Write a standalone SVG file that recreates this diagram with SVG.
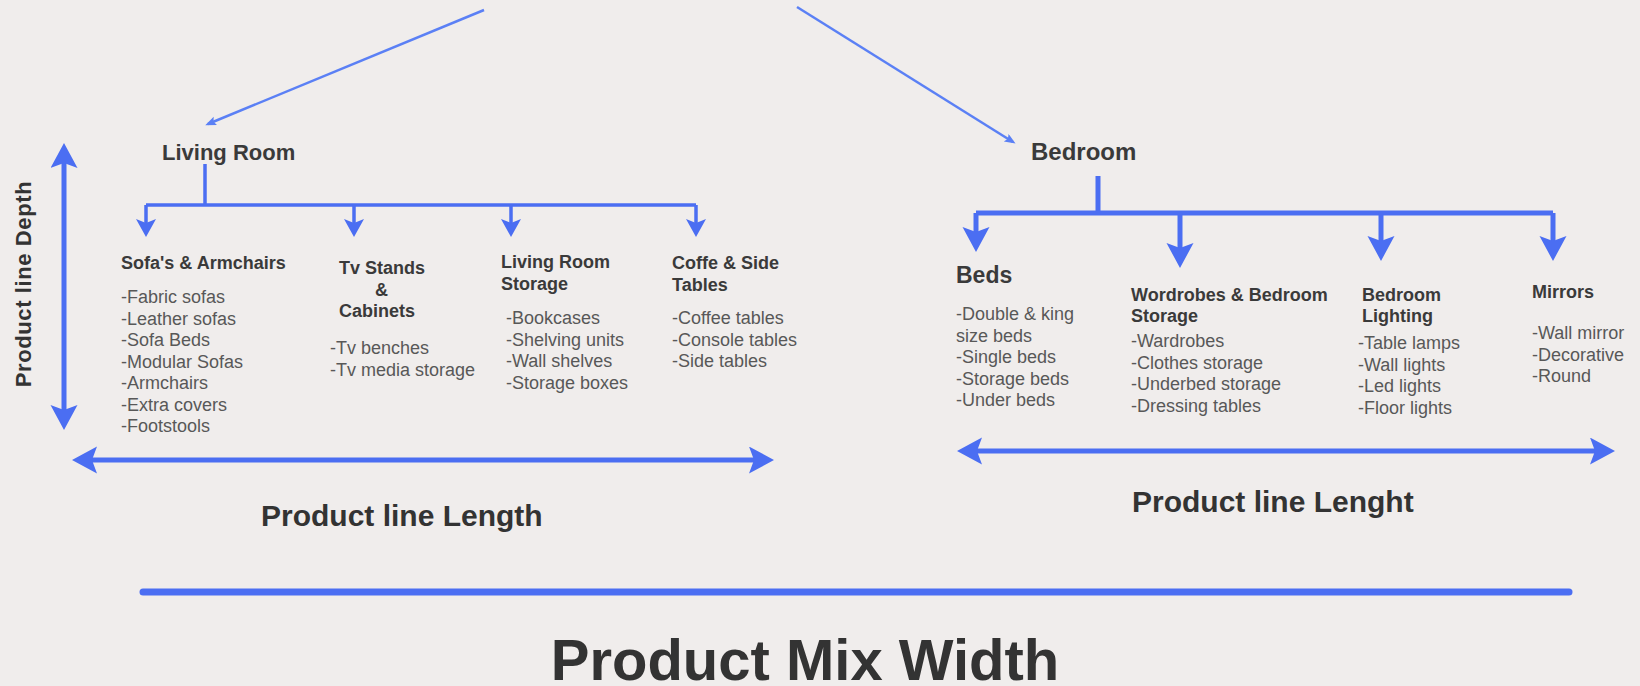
<svg xmlns="http://www.w3.org/2000/svg" width="1640" height="686" viewBox="0 0 1640 686">
  <defs>
    <style>
      .bg { fill: #f0edec; }
      .room { font-family: "Liberation Sans", Arial, sans-serif; font-weight: bold; fill: #3a3a3a; }
      .head { font-family: "Liberation Sans", Arial, sans-serif; font-weight: bold; font-size: 18px; fill: #3a3a3a; }
      .item { font-family: "Liberation Sans", Arial, sans-serif; font-size: 18px; fill: #585858; }
      .axis { font-family: "Liberation Sans", Arial, sans-serif; font-weight: bold; fill: #333333; }
      .thin { fill: none; stroke: #5b80f5; stroke-width: 2.5; }
      .mid { fill: none; stroke: #4b6ef2; stroke-width: 3.5; }
      .thick { fill: none; stroke: #4b6ef2; stroke-width: 5; }
      .head-fill { fill: #4b6ef2; }
      .thin-fill { fill: #5b80f5; }
    </style>
    <marker id="ah-s" markerUnits="userSpaceOnUse" markerWidth="12" markerHeight="10" refX="8" refY="4.5" orient="auto">
      <path class="thin-fill" d="M0,0 L11,4.5 L0,9 L2,4.5 z"/>
    </marker>
    <marker id="ah-m" markerUnits="userSpaceOnUse" markerWidth="19" markerHeight="21" refX="10" refY="10" orient="auto-start-reverse">
      <path class="head-fill" d="M0,0 L18,10 L0,20 L4,10 z"/>
    </marker>
    <marker id="ah-l" markerUnits="userSpaceOnUse" markerWidth="26" markerHeight="28" refX="15" refY="13.5" orient="auto-start-reverse">
      <path class="head-fill" d="M0,0 L25,13.5 L0,27 L5,13.5 z"/>
    </marker>
  </defs>

  <rect class="bg" x="0" y="0" width="1640" height="686"/>

  <!-- connectors: tree branches and measuring axes -->
  <g id="connectors">
    <!-- from the top of the mix down to each room -->
    <path class="thin" d="M484,10 L208,124" marker-end="url(#ah-s)"/>
    <path class="thin" d="M797,7 L1013,142" marker-end="url(#ah-s)"/>

    <!-- living room branches -->
    <path class="mid" d="M205,164 V205 M146,205 H696"/>
    <path class="mid" d="M146,205 V229" marker-end="url(#ah-m)"/>
    <path class="mid" d="M354,205 V229" marker-end="url(#ah-m)"/>
    <path class="mid" d="M511,205 V229" marker-end="url(#ah-m)"/>
    <path class="mid" d="M696,205 V229" marker-end="url(#ah-m)"/>

    <!-- bedroom branches -->
    <path class="thick" d="M1098,176 V213 M976,213 H1553"/>
    <path class="thick" d="M976,213 V242" marker-end="url(#ah-l)"/>
    <path class="thick" d="M1180,213 V258" marker-end="url(#ah-l)"/>
    <path class="thick" d="M1381,213 V251" marker-end="url(#ah-l)"/>
    <path class="thick" d="M1553,213 V251" marker-end="url(#ah-l)"/>

    <!-- product line depth -->
    <path class="thick" d="M64,153 V420" marker-start="url(#ah-l)" marker-end="url(#ah-l)"/>
    <!-- product line length, living room -->
    <path class="thick" d="M82,460 H764" marker-start="url(#ah-l)" marker-end="url(#ah-l)"/>
    <!-- product line length, bedroom -->
    <path class="thick" d="M967,451 H1605" marker-start="url(#ah-l)" marker-end="url(#ah-l)"/>
    <!-- product mix width -->
    <path d="M143,592 H1569" fill="none" stroke="#4b6ef2" stroke-width="7" stroke-linecap="round"/>
  </g>

  <!-- rooms -->
  <g id="living-room">
    <text class="room" x="162" y="160" font-size="22">Living Room</text>
  </g>
  <g id="bedroom">
    <text class="room" x="1031" y="160" font-size="24">Bedroom</text>
  </g>

  <!-- living room product lines -->
  <g id="sofas-armchairs">
    <text class="head" x="121" y="269">Sofa's &amp; Armchairs</text>
    <text class="item">
      <tspan x="121" y="303">-Fabric sofas</tspan>
      <tspan x="121" y="324.5">-Leather sofas</tspan>
      <tspan x="121" y="346">-Sofa Beds</tspan>
      <tspan x="121" y="367.5">-Modular Sofas</tspan>
      <tspan x="121" y="389">-Armchairs</tspan>
      <tspan x="121" y="410.5">-Extra covers</tspan>
      <tspan x="121" y="432">-Footstools</tspan>
    </text>
  </g>
  <g id="tv-stands">
    <text class="head">
      <tspan x="339" y="274">Tv Stands</tspan>
      <tspan x="375" y="295.5">&amp;</tspan>
      <tspan x="339" y="317">Cabinets</tspan>
    </text>
    <text class="item">
      <tspan x="330" y="354">-Tv benches</tspan>
      <tspan x="330" y="375.5">-Tv media storage</tspan>
    </text>
  </g>
  <g id="living-room-storage">
    <text class="head">
      <tspan x="501" y="268">Living Room</tspan>
      <tspan x="501" y="290">Storage</tspan>
    </text>
    <text class="item">
      <tspan x="506" y="324">-Bookcases</tspan>
      <tspan x="506" y="345.6">-Shelving units</tspan>
      <tspan x="506" y="367.2">-Wall shelves</tspan>
      <tspan x="506" y="388.8">-Storage boxes</tspan>
    </text>
  </g>
  <g id="coffee-side-tables">
    <text class="head">
      <tspan x="672" y="269">Coffe &amp; Side</tspan>
      <tspan x="672" y="291">Tables</tspan>
    </text>
    <text class="item">
      <tspan x="672" y="324">-Coffee tables</tspan>
      <tspan x="672" y="345.6">-Console tables</tspan>
      <tspan x="672" y="367.2">-Side tables</tspan>
    </text>
  </g>

  <!-- bedroom product lines -->
  <g id="beds">
    <text class="room" x="956" y="283" font-size="23">Beds</text>
    <text class="item">
      <tspan x="956" y="320">-Double &amp; king</tspan>
      <tspan x="956" y="341.5">size beds</tspan>
      <tspan x="956" y="363">-Single beds</tspan>
      <tspan x="956" y="384.5">-Storage beds</tspan>
      <tspan x="956" y="406">-Under beds</tspan>
    </text>
  </g>
  <g id="wardrobes-storage">
    <text class="head">
      <tspan x="1131" y="301">Wordrobes &amp; Bedroom</tspan>
      <tspan x="1131" y="322">Storage</tspan>
    </text>
    <text class="item">
      <tspan x="1131" y="347">-Wardrobes</tspan>
      <tspan x="1131" y="368.7">-Clothes storage</tspan>
      <tspan x="1131" y="390.4">-Underbed storage</tspan>
      <tspan x="1131" y="412">-Dressing tables</tspan>
    </text>
  </g>
  <g id="bedroom-lighting">
    <text class="head">
      <tspan x="1362" y="301">Bedroom</tspan>
      <tspan x="1362" y="322">Lighting</tspan>
    </text>
    <text class="item">
      <tspan x="1358" y="349">-Table lamps</tspan>
      <tspan x="1358" y="370.7">-Wall lights</tspan>
      <tspan x="1358" y="392.4">-Led lights</tspan>
      <tspan x="1358" y="414">-Floor lights</tspan>
    </text>
  </g>
  <g id="mirrors">
    <text class="head" x="1532" y="298">Mirrors</text>
    <text class="item">
      <tspan x="1532" y="339">-Wall mirror</tspan>
      <tspan x="1532" y="360.5">-Decorative</tspan>
      <tspan x="1532" y="382">-Round</tspan>
    </text>
  </g>

  <!-- axis labels -->
  <g id="axis-labels">
    <text class="axis" font-size="22" letter-spacing="0.6" text-anchor="middle" transform="translate(31,284) rotate(-90)">Product line Depth</text>
    <text class="axis" x="261" y="526" font-size="30">Product line Length</text>
    <text class="axis" x="1132" y="512" font-size="30">Product line Lenght</text>
    <text class="axis" x="805" y="680" font-size="58" text-anchor="middle">Product Mix Width</text>
  </g>
</svg>
